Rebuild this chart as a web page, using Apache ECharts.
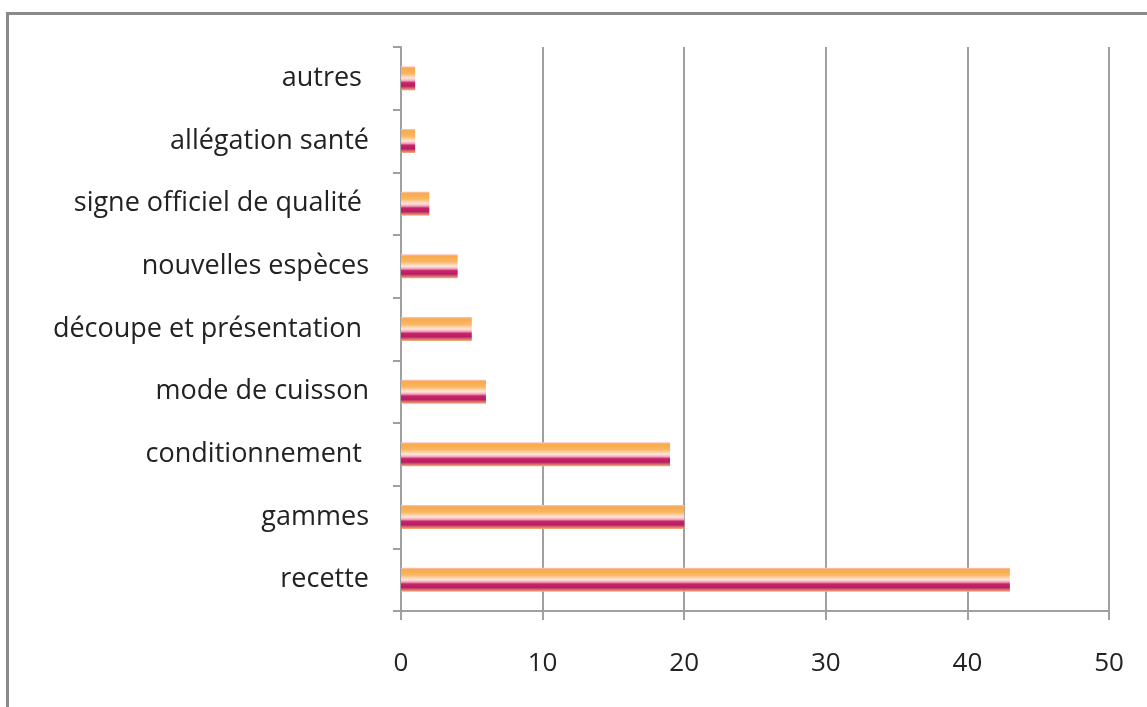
<!DOCTYPE html>
<html>
<head>
<meta charset="utf-8">
<script src="https://cdn.jsdelivr.net/npm/echarts@6/dist/echarts.min.js"></script>
<style>
  html, body { margin: 0; padding: 0; background: #fff; }
  #chart { width: 1147px; height: 707px; }
</style>
</head>
<body>
<div id="chart"></div>
<script>
// catégories (de bas en haut)
const categories = ['recette', 'gammes', 'conditionnement ', 'mode de cuisson', 'découpe et présentation ',
  'nouvelles espèces', 'signe officiel de qualité ', 'allégation santé', 'autres '];
const values = [43, 20, 19, 6, 5, 4, 2, 1, 1];
const xTicks = [0, 10, 20, 30, 40, 50];

const chart = echarts.init(document.getElementById('chart'));

// dégradé "feu" des barres
const barGradient = new echarts.graphic.LinearGradient(0, 0, 0, 1, [
  { offset: 0, color: '#fbc6c8' },
  { offset: 0.08, color: '#f8aa4c' },
  { offset: 0.3, color: '#f9b660' },
  { offset: 0.5, color: '#fde6de' },
  { offset: 0.6, color: '#f2a2b8' },
  { offset: 0.68, color: '#c8246c' },
  { offset: 0.82, color: '#b81c62' },
  { offset: 0.92, color: '#d8706c' },
  { offset: 1, color: '#f5b478' }
]);

chart.setOption({
  animation: false,
  textStyle: { fontFamily: 'Open Sans' },
  graphic: [{
    type: 'rect',
    shape: { x: 7.5, y: 13.5, width: 1160, height: 720 },
    style: { fill: 'none', stroke: '#8a8a8a', lineWidth: 3 }
  }],
  grid: { left: 401, right: 38, top: 47, bottom: 96 },
  xAxis: {
    type: 'value',
    min: xTicks[0],
    max: xTicks[xTicks.length - 1],
    interval: 10,
    axisLine: { show: true, lineStyle: { color: '#a0a0a0', width: 2 } },
    axisTick: { show: true, length: 9, lineStyle: { color: '#a0a0a0', width: 2 } },
    axisLabel: { color: '#222', fontSize: 26, margin: 40 },
    splitLine: { show: true, lineStyle: { color: '#a0a0a0', width: 2 } }
  },
  yAxis: {
    type: 'category',
    data: categories,
    axisLine: { show: true, lineStyle: { color: '#a0a0a0', width: 2 } },
    axisTick: { show: true, length: 8, lineStyle: { color: '#a0a0a0', width: 2 } },
    axisLabel: { color: '#222', fontSize: 27, margin: 32, padding: [6, 0, 0, 0] }
  },
  series: [{
    type: 'bar',
    data: values,
    barWidth: 24,
    itemStyle: { color: barGradient }
  }]
});
</script>
</body>
</html>
